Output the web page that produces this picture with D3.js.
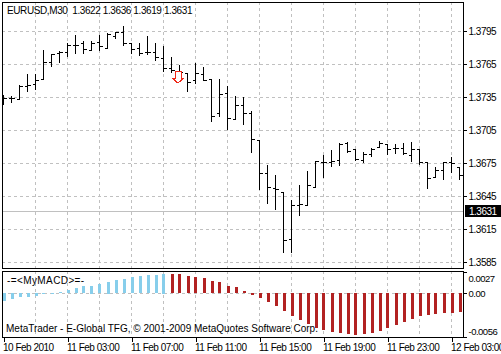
<!DOCTYPE html>
<html>
<head>
<meta charset="utf-8">
<script src="https://cdn.jsdelivr.net/npm/d3@7"></script>
<style>
  html, body { margin: 0; padding: 0; background: #fff; overflow: hidden; }
  svg { display: block; }
  text { font-family: "Liberation Sans", sans-serif; font-size: 10px; fill: #000; white-space: pre; }
  .tick text { letter-spacing: -0.5px; }
  .macd-axis .tick text { font-size: 9.5px; }
</style>
</head>
<body>
<div id="plot"></div>
<script>
const opens = [1.3734,1.3734,1.3733,1.3745,1.3747,1.3751,1.3767,1.3775,1.3776,1.3782,1.3784,1.3778,1.3785,1.3780,1.3790,1.3794,1.3784,1.3780,1.3776,1.3776,1.3770,1.3761,1.3759,1.3757,1.3750,1.3756,1.3751,1.3720,1.3739,1.3715,1.3728,1.3720,1.3696,1.3666,1.3652,1.3649,1.3606,1.3637,1.3637,1.3653,1.3676,1.3676,1.3678,1.3693,1.3688,1.3678,1.3683,1.3690,1.3692,1.3689,1.3689,1.3682,1.3688,1.3676,1.3662,1.3669,1.3676,1.3671];
const highs = [1.3737,1.3736,1.3746,1.3756,1.3756,1.3778,1.3774,1.3777,1.3784,1.3791,1.3786,1.3786,1.3791,1.3793,1.3794,1.3800,1.3784,1.3784,1.3790,1.3784,1.3781,1.3771,1.3764,1.3757,1.3766,1.3762,1.3751,1.3751,1.3745,1.3736,1.3735,1.3722,1.3696,1.3673,1.3664,1.3649,1.3641,1.3655,1.3668,1.3677,1.3682,1.3687,1.3693,1.3694,1.3688,1.3685,1.3689,1.3695,1.3692,1.3692,1.3693,1.3694,1.3688,1.3676,1.3671,1.3676,1.3680,1.3671];
const lows = [1.3729,1.3730,1.3733,1.3740,1.3742,1.3751,1.3763,1.3767,1.3772,1.3775,1.3775,1.3778,1.3778,1.3780,1.3789,1.3782,1.3775,1.3773,1.3774,1.3769,1.3759,1.3758,1.3755,1.3740,1.3748,1.3750,1.3713,1.3718,1.3706,1.3715,1.3710,1.3685,1.3651,1.3639,1.3633,1.3594,1.3594,1.3628,1.3637,1.3653,1.3662,1.3672,1.3673,1.3685,1.3678,1.3676,1.3681,1.3690,1.3683,1.3684,1.3683,1.3677,1.3674,1.3652,1.3662,1.3660,1.3667,1.3660];
const closes = [1.3734,1.3734,1.3745,1.3746,1.3750,1.3767,1.3774,1.3776,1.3782,1.3782,1.3779,1.3784,1.3781,1.3792,1.3794,1.3784,1.3779,1.3775,1.3776,1.3771,1.3761,1.3760,1.3758,1.3749,1.3757,1.3750,1.3718,1.3738,1.3716,1.3728,1.3720,1.3697,1.3666,1.3653,1.3651,1.3605,1.3637,1.3638,1.3655,1.3677,1.3676,1.3677,1.3692,1.3686,1.3679,1.3683,1.3688,1.3693,1.3688,1.3689,1.3684,1.3688,1.3676,1.3661,1.3669,1.3676,1.3675,1.3664];
const macd = [-0.00102,-0.00077,-0.00051,-0.00045,-0.00032,-0.00019,-0.00009,0.00017,0.00042,0.00064,0.00089,0.00096,0.00121,0.00147,0.00166,0.00179,0.00204,0.00217,0.00226,0.0023,0.00249,0.00239,0.00239,0.00213,0.002,0.00188,0.00157,0.00137,0.00093,0.00073,0.00029,-0.00026,-0.0006,-0.00111,-0.00162,-0.00226,-0.0029,-0.00341,-0.00392,-0.00443,-0.00469,-0.00494,-0.00507,-0.0052,-0.00533,-0.0052,-0.00507,-0.00481,-0.00443,-0.00405,-0.00366,-0.00328,-0.0029,-0.00277,-0.00264,-0.00252,-0.00252,-0.00239];
const firstRedBar = 21;
const priceTicks = [1.3795,1.3765,1.3735,1.3705,1.3675,1.3645,1.3615,1.3585];
const macdTicks = [0.0027,0,-0.0056];
const macdLabels = ["0.0027","0.00","-0.0056"];
const timeLabels = ["10 Feb 2010","11 Feb 03:00","11 Feb 07:00","11 Feb 11:00","11 Feb 15:00","11 Feb 19:00","11 Feb 23:00","12 Feb 03:00"];
const currentPrice = 1.3631;
const arrowBar = 22, arrowPrice = 1.3758;

const w = 501, h = 354;
const left = 2, right = 463, mainTop = 2, mainBottom = 268, subTop = 271, subBottom = 337;

const svg = d3.select("#plot").append("svg").attr("width", w).attr("height", h)
  .attr("shape-rendering", "crispEdges");

const x = d3.scaleLinear().domain([0, opens.length - 1]).range([3.5, 459.5]);
const y = d3.scaleLinear().domain([1.3795, 1.3585]).range([31, 262]);
const yMacd = d3.scaleLinear().domain([0.0027, -0.0056]).range([272, 337]);
const py = v => Math.round(y(v)) + 0.5;

// ------------- grid -------------
const gridBars = d3.range(4, opens.length, 4);
const grid = svg.append("g").attr("stroke", "#c0c0c0").attr("stroke-dasharray", "3,3");
[[mainTop, mainBottom], [subTop, subBottom]].forEach(r => {
  grid.selectAll(null).data(gridBars).enter().append("line")
    .attr("x1", d => x(d)).attr("x2", d => x(d))
    .attr("y1", r[0]).attr("y2", r[1]);
});
grid.selectAll(null).data(priceTicks).enter().append("line")
  .attr("x1", left).attr("x2", right)
  .attr("y1", py).attr("y2", py);
grid.append("line").attr("x1", left).attr("x2", right)
  .attr("y1", Math.round(yMacd(0)) + 0.5).attr("y2", Math.round(yMacd(0)) + 0.5);

svg.append("line").attr("x1", left).attr("x2", right)
  .attr("y1", py(currentPrice)).attr("y2", py(currentPrice))
  .attr("stroke", "#c0c0c0");

// ------------- price bars -------------
const bars = svg.append("g").attr("stroke", "#000").selectAll("g")
  .data(d3.range(opens.length)).enter().append("g");
bars.append("line").attr("x1", i => x(i)).attr("x2", i => x(i))
  .attr("y1", i => py(highs[i]) - 0.5).attr("y2", i => py(lows[i]) + 0.5);
bars.append("line").attr("x1", i => Math.max(x(i) - 3, left)).attr("x2", i => x(i))
  .attr("y1", i => py(opens[i])).attr("y2", i => py(opens[i]));
bars.append("line").attr("x1", i => x(i)).attr("x2", i => x(i) + 3.5)
  .attr("y1", i => py(closes[i])).attr("y2", i => py(closes[i]));

// sell arrow
svg.append("path")
  .attr("transform", "translate(" + (x(arrowBar) - 1.5) + "," + y(arrowPrice) + ")")
  .attr("d", "M-3,0H3V7H5L0,11.5L-5,7H-3Z")
  .attr("fill", "#fff").attr("stroke", "#f02818");

// ------------- macd histogram -------------
svg.append("g").selectAll("rect").data(macd).enter().append("rect")
  .attr("x", (d, i) => Math.round(x(i)) - 1)
  .attr("width", 3)
  .attr("y", d => Math.round(Math.min(yMacd(d), yMacd(0))))
  .attr("height", d => Math.max(1, Math.round(Math.abs(yMacd(d) - yMacd(0)))))
  .attr("fill", (d, i) => i < firstRedBar ? "#87ceeb" : "#b22222");

// ------------- frames -------------
const frame = svg.append("g").attr("fill", "none").attr("stroke", "#000");
frame.append("rect").attr("x", left + 0.5).attr("y", mainTop + 0.5)
  .attr("width", right - left).attr("height", mainBottom - mainTop);
frame.append("rect").attr("x", left + 0.5).attr("y", subTop + 0.5)
  .attr("width", right - left).attr("height", subBottom - subTop);

// ------------- axes -------------
const priceG = svg.append("g").attr("transform", "translate(" + (right + 0.5) + ",0)");
priceG.call(d3.axisRight(y).tickValues(priceTicks).tickFormat(d3.format(".4f")).tickSize(3).tickPadding(2));
priceG.select(".domain").remove();

const macdG = svg.append("g").attr("class", "macd-axis").attr("transform", "translate(" + (right + 0.5) + ",0)");
macdG.call(d3.axisRight(yMacd).tickValues(macdTicks).tickFormat((d, i) => macdLabels[i]).tickSize(3).tickPadding(2));
macdG.select(".domain").remove();
macdG.selectAll("text").attr("dy", (d, i) => [9, 3.5, -2.5][i]);

svg.append("rect").attr("x", 465).attr("y", py(currentPrice) - 6.5).attr("width", 36).attr("height", 12).attr("fill", "#000");
svg.append("text").attr("x", 469).attr("y", py(currentPrice) + 3.5).text(d3.format(".4f")(currentPrice))
  .style("fill", "#fff").style("letter-spacing", "-0.5px");

const timeBars = timeLabels.map((d, i) => i * 8);
const timeG = svg.append("g").attr("transform", "translate(0," + (subBottom + 0.5) + ")");
timeG.call(d3.axisBottom(x).tickValues(timeBars).tickFormat((d, i) => timeLabels[i]).tickSize(4).tickPadding(2));
timeG.select(".domain").remove();
timeG.selectAll("text").attr("text-anchor", "start").attr("dx", -1);

svg.selectAll(".tick text").attr("font-family", null).attr("font-size", null);
svg.selectAll("g[font-family]").attr("font-family", null).attr("font-size", null);

// ------------- captions -------------
svg.append("text").attr("x", 7).attr("y", 14).style("letter-spacing", "-0.4px").text("EURUSD,M30  1.3622 1.3636 1.3619 1.3631");
svg.append("text").attr("x", 7).attr("y", 284).style("letter-spacing", "0.4px").text("-=<MyMACD>=-");
svg.append("text").attr("x", 6).attr("y", 332).text("MetaTrader - E-Global TFG, © 2001-2009 MetaQuotes Software Corp.");
</script>
</body>
</html>
